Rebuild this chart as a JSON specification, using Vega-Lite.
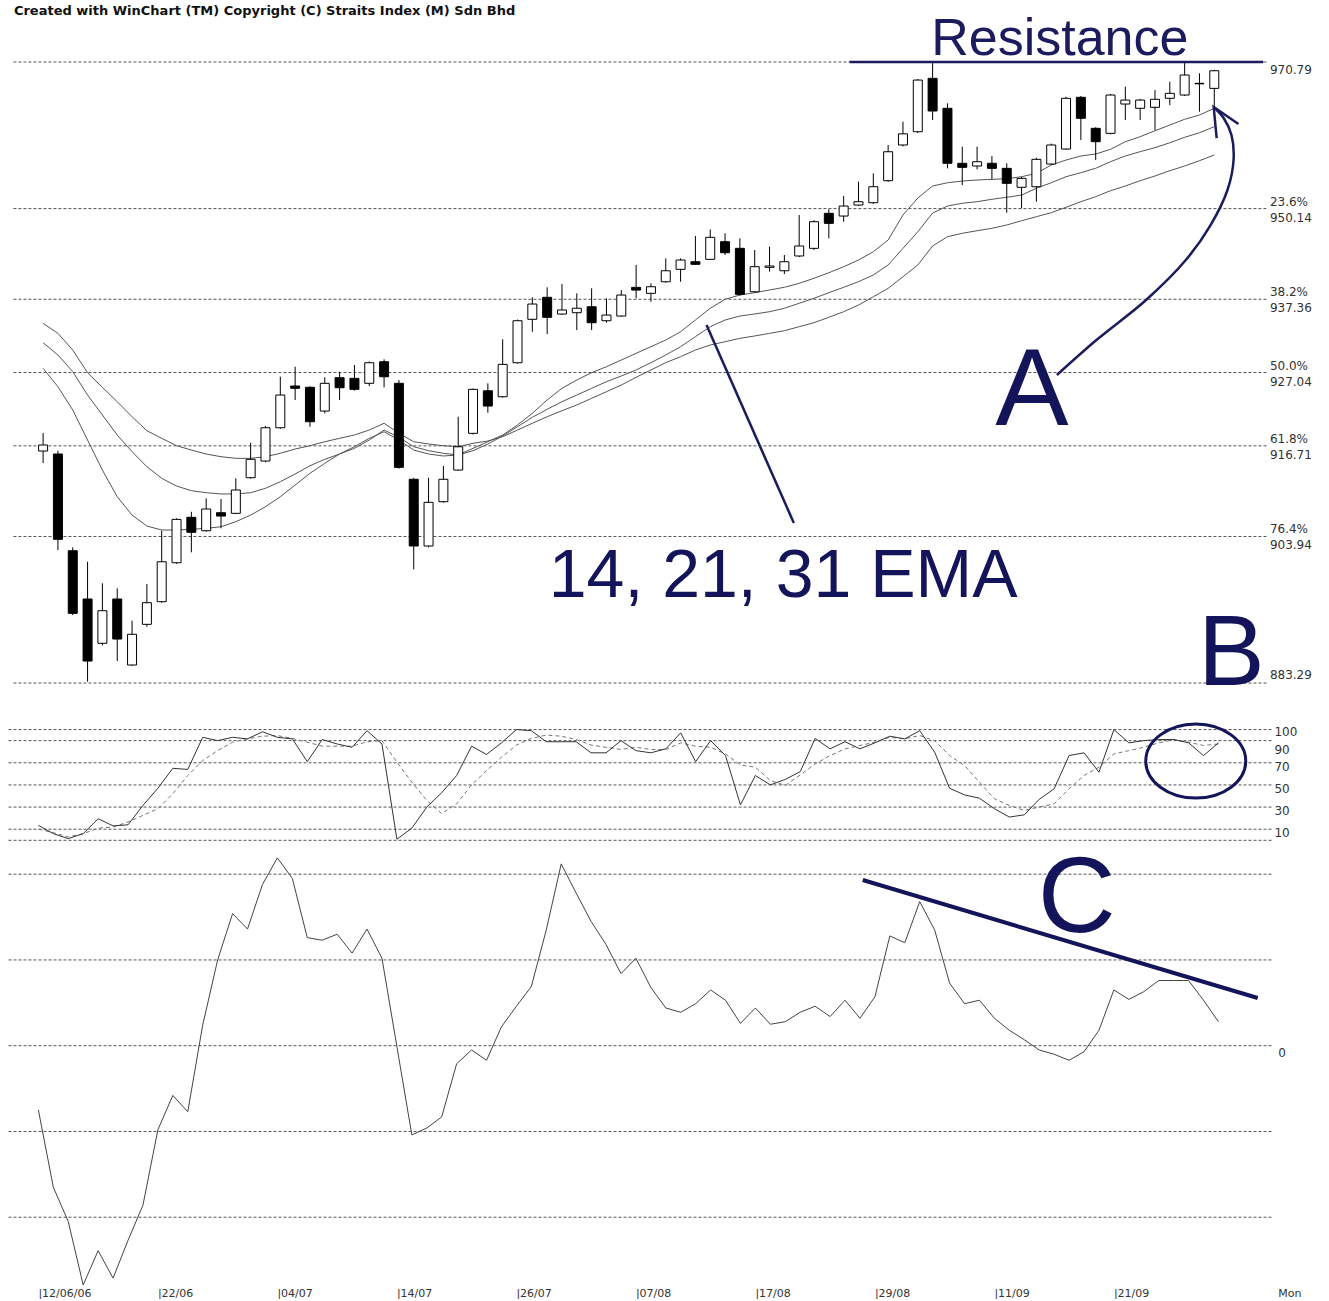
{
 "$schema": "https://vega.github.io/schema/vega-lite/v6.json",
 "padding": 0,
 "background": "white",
 "spacing": 0,
 "bounds": "flush",
 "config": {"view": {"stroke": null}, "concat": {"spacing": 0}},
 "datasets": {
  "d": [
   {"i":0,"o":915.98,"h":918.52,"l":914.29,"c":916.83,"e14":927.63,"e21":931.24,"e31":933.97,"k":13.5,"dd":10,"m":-7.5},
   {"i":1,"o":915.56,"h":916.02,"l":902.03,"c":903.54,"e14":925.04,"e21":929.51,"e31":932.56,"k":6,"dd":7,"m":-16.5},
   {"i":2,"o":901.93,"h":902.41,"l":892.87,"c":893.11,"e14":921.76,"e21":927.16,"e31":930.21,"k":1.5,"dd":3,"m":-20.5},
   {"i":3,"o":895.13,"h":900.38,"l":883.48,"c":886.39,"e14":917.53,"e21":923.87,"e31":927.01,"k":6,"dd":6,"m":-27.9},
   {"i":4,"o":888.89,"h":897.34,"l":888.6,"c":893.48,"e14":913.3,"e21":921.06,"e31":924.95,"k":19.5,"dd":11,"m":-23.9},
   {"i":5,"o":895.13,"h":896.64,"l":886.39,"c":889.49,"e14":909.54,"e21":918.24,"e31":922.93,"k":13,"dd":12,"m":-27.1},
   {"i":6,"o":885.83,"h":892.07,"l":885.7,"c":890.16,"e14":906.96,"e21":915.89,"e31":920.81,"k":14,"dd":16.5,"m":-22.7},
   {"i":7,"o":891.56,"h":897.24,"l":891.22,"c":894.61,"e14":905.41,"e21":913.77,"e31":918.84,"k":31.5,"dd":22.5,"m":-18.6},
   {"i":8,"o":894.75,"h":904.75,"l":894.6,"c":900.38,"e14":904.85,"e21":912.14,"e31":917.77,"k":47,"dd":28.5,"m":-9.8},
   {"i":9,"o":900.24,"h":906.5,"l":900.1,"c":906.35,"e14":904.85,"e21":911.05,"e31":916.73,"k":65,"dd":42,"m":-5.8},
   {"i":10,"o":906.64,"h":907.42,"l":901.71,"c":904.53,"e14":904.95,"e21":910.39,"e31":916.12,"k":64,"dd":58.5,"m":-7.7},
   {"i":11,"o":904.75,"h":909.32,"l":904.6,"c":907.81,"e14":905.09,"e21":910.11,"e31":915.56,"k":93,"dd":72,"m":2.4},
   {"i":12,"o":907.29,"h":909.22,"l":905.09,"c":906.82,"e14":905.31,"e21":909.93,"e31":915.18,"k":90,"dd":81,"m":10},
   {"i":13,"o":907.2,"h":912.13,"l":907.1,"c":910.49,"e14":906.02,"e21":909.93,"e31":914.95,"k":93,"dd":88.6,"m":15.4},
   {"i":14,"o":912.22,"h":917.15,"l":912.1,"c":914.81,"e14":906.96,"e21":910.11,"e31":914.95,"k":91.6,"dd":91.6,"m":13.6},
   {"i":15,"o":914.57,"h":919.5,"l":914.4,"c":919.26,"e14":908.13,"e21":910.73,"e31":915.18,"k":98,"dd":94,"m":18.8},
   {"i":16,"o":919.26,"h":926.45,"l":919.1,"c":923.87,"e14":909.54,"e21":911.66,"e31":915.66,"k":93,"dd":94.6,"m":21.9},
   {"i":17,"o":925.14,"h":927.86,"l":923.17,"c":924.82,"e14":911.19,"e21":912.74,"e31":916.26,"k":91.6,"dd":92,"m":19.5},
   {"i":18,"o":924.96,"h":925.1,"l":919.4,"c":920.11,"e14":912.84,"e21":913.91,"e31":916.73,"k":71,"dd":88.6,"m":12.6},
   {"i":19,"o":921.61,"h":926.36,"l":921.29,"c":925.52,"e14":914.25,"e21":914.81,"e31":917.29,"k":91,"dd":85,"m":12.3},
   {"i":20,"o":926.31,"h":927.15,"l":923.17,"c":924.9,"e14":915.56,"e21":915.56,"e31":917.77,"k":87,"dd":85,"m":13},
   {"i":21,"o":926.22,"h":928.1,"l":924.5,"c":924.67,"e14":916.59,"e21":916.36,"e31":918.24,"k":84,"dd":85,"m":10.8},
   {"i":22,"o":925.52,"h":928.6,"l":925.14,"c":928.42,"e14":917.77,"e21":917.53,"e31":918.94,"k":99,"dd":89,"m":13.6},
   {"i":23,"o":928.56,"h":928.9,"l":924.96,"c":926.45,"e14":918.7,"e21":918.94,"e31":919.89,"k":87,"dd":90,"m":10.2},
   {"i":24,"o":925.52,"h":925.98,"l":913.5,"c":913.68,"e14":917.53,"e21":917.91,"e31":918.48,"k":1,"dd":70.6,"m":-0.1},
   {"i":25,"o":912.0,"h":912.2,"l":899.31,"c":902.6,"e14":916.12,"e21":916.59,"e31":917.29,"k":11,"dd":52.5,"m":-10.4},
   {"i":26,"o":902.6,"h":912.22,"l":902.4,"c":908.75,"e14":915.56,"e21":916.03,"e31":916.97,"k":30,"dd":36,"m":-9.6},
   {"i":27,"o":908.84,"h":913.87,"l":908.7,"c":912.0,"e14":915.28,"e21":915.66,"e31":916.73,"k":43,"dd":24,"m":-8.3},
   {"i":28,"o":913.3,"h":920.81,"l":913.2,"c":916.58,"e14":915.42,"e21":915.42,"e31":916.59,"k":58.5,"dd":33,"m":-2.1},
   {"i":29,"o":918.47,"h":924.8,"l":918.3,"c":924.67,"e14":916.36,"e21":916.03,"e31":917.07,"k":85,"dd":50,"m":-0.5},
   {"i":30,"o":924.47,"h":925.52,"l":921.38,"c":922.32,"e14":917.29,"e21":916.97,"e31":917.39,"k":77.5,"dd":63,"m":-1.7},
   {"i":31,"o":923.63,"h":931.72,"l":923.5,"c":928.19,"e14":918.24,"e21":918.1,"e31":918.0,"k":88,"dd":75,"m":2.2},
   {"i":32,"o":928.42,"h":934.5,"l":928.3,"c":934.34,"e14":919.65,"e21":919.41,"e31":918.94,"k":100,"dd":86,"m":4.6},
   {"i":33,"o":934.54,"h":937.64,"l":932.79,"c":936.69,"e14":921.3,"e21":920.73,"e31":919.89,"k":99,"dd":92,"m":6.9},
   {"i":34,"o":937.64,"h":939.04,"l":932.46,"c":934.82,"e14":923.17,"e21":921.86,"e31":920.81,"k":89,"dd":95,"m":13.5},
   {"i":35,"o":935.28,"h":939.51,"l":935.14,"c":935.85,"e14":924.82,"e21":922.93,"e31":921.66,"k":89,"dd":94,"m":21.2},
   {"i":36,"o":935.47,"h":938.2,"l":933.03,"c":936.1,"e14":925.99,"e21":923.87,"e31":922.47,"k":89,"dd":91,"m":17.8},
   {"i":37,"o":936.31,"h":938.9,"l":933.03,"c":934.06,"e14":927.02,"e21":924.82,"e31":923.41,"k":79,"dd":86,"m":14.5},
   {"i":38,"o":934.34,"h":937.5,"l":934.06,"c":935.14,"e14":927.86,"e21":925.75,"e31":924.34,"k":79,"dd":84,"m":11.8},
   {"i":39,"o":935.0,"h":938.66,"l":934.9,"c":937.96,"e14":928.8,"e21":926.55,"e31":925.28,"k":90,"dd":82,"m":8.4},
   {"i":40,"o":939.04,"h":942.19,"l":937.5,"c":938.66,"e14":929.75,"e21":927.4,"e31":926.37,"k":81,"dd":84,"m":10.2},
   {"i":41,"o":938.2,"h":939.61,"l":937.02,"c":939.13,"e14":930.68,"e21":928.43,"e31":927.4,"k":79,"dd":82,"m":6.8},
   {"i":42,"o":939.83,"h":943.13,"l":939.7,"c":941.38,"e14":931.62,"e21":929.51,"e31":928.43,"k":82.6,"dd":82,"m":4.4},
   {"i":43,"o":941.58,"h":943.13,"l":939.83,"c":942.89,"e14":932.79,"e21":930.68,"e31":929.27,"k":97,"dd":88,"m":3.9},
   {"i":44,"o":942.65,"h":946.27,"l":942.2,"c":942.29,"e14":934.44,"e21":932.09,"e31":930.21,"k":71,"dd":85,"m":4.9},
   {"i":45,"o":942.99,"h":947.21,"l":942.9,"c":946.09,"e14":936.09,"e21":933.5,"e31":930.92,"k":90,"dd":84,"m":6.5},
   {"i":46,"o":945.47,"h":946.65,"l":943.6,"c":943.92,"e14":937.36,"e21":934.44,"e31":931.38,"k":76.5,"dd":78,"m":5.3},
   {"i":47,"o":944.54,"h":945.95,"l":937.9,"c":938.06,"e14":937.96,"e21":935.0,"e31":931.86,"k":32,"dd":68,"m":2.6},
   {"i":48,"o":938.42,"h":944.3,"l":938.3,"c":941.95,"e14":938.29,"e21":935.29,"e31":932.19,"k":58.5,"dd":66,"m":4.4},
   {"i":49,"o":941.86,"h":944.77,"l":941.25,"c":942.05,"e14":938.67,"e21":935.61,"e31":932.56,"k":50,"dd":54,"m":2.5},
   {"i":50,"o":941.38,"h":943.6,"l":940.92,"c":942.65,"e14":939.05,"e21":936.09,"e31":932.93,"k":55,"dd":49.5,"m":2.8},
   {"i":51,"o":943.46,"h":949.23,"l":943.3,"c":944.87,"e14":939.61,"e21":936.8,"e31":933.5,"k":62,"dd":59,"m":3.9},
   {"i":52,"o":944.54,"h":948.5,"l":944.3,"c":948.29,"e14":940.32,"e21":937.5,"e31":934.06,"k":92,"dd":69,"m":4.6},
   {"i":53,"o":949.47,"h":950.04,"l":945.95,"c":948.06,"e14":941.1,"e21":938.29,"e31":934.82,"k":82.6,"dd":76.5,"m":3.4},
   {"i":54,"o":949.09,"h":951.91,"l":948.29,"c":950.5,"e14":941.95,"e21":939.05,"e31":935.61,"k":89,"dd":82.6,"m":5.3},
   {"i":55,"o":950.64,"h":953.93,"l":950.5,"c":951.11,"e14":942.89,"e21":939.84,"e31":936.55,"k":82.6,"dd":85.6,"m":3.2},
   {"i":56,"o":950.97,"h":955.11,"l":950.8,"c":953.22,"e14":944.06,"e21":940.78,"e31":937.72,"k":88,"dd":88.6,"m":5.7},
   {"i":57,"o":954.07,"h":959.1,"l":953.9,"c":958.15,"e14":945.71,"e21":942.19,"e31":938.9,"k":94,"dd":93,"m":12.8},
   {"i":58,"o":959.1,"h":962.38,"l":958.9,"c":960.67,"e14":949.23,"e21":944.54,"e31":940.54,"k":91.6,"dd":91.6,"m":12},
   {"i":59,"o":960.97,"h":968.4,"l":960.8,"c":968.25,"e14":951.63,"e21":946.88,"e31":942.19,"k":99,"dd":94.6,"m":16.8},
   {"i":60,"o":968.49,"h":970.69,"l":962.62,"c":963.89,"e14":953.32,"e21":949.52,"e31":944.87,"k":79.6,"dd":90,"m":13.5},
   {"i":61,"o":964.27,"h":964.97,"l":955.81,"c":956.52,"e14":953.78,"e21":950.5,"e31":946.18,"k":47,"dd":76.5,"m":7.3},
   {"i":62,"o":956.52,"h":958.86,"l":953.46,"c":955.95,"e14":954.02,"e21":950.89,"e31":946.66,"k":41,"dd":67.5,"m":4.9},
   {"i":63,"o":956.14,"h":958.86,"l":955.67,"c":956.74,"e14":954.17,"e21":951.11,"e31":947.02,"k":38,"dd":52.5,"m":5.3},
   {"i":64,"o":956.52,"h":957.54,"l":954.26,"c":955.81,"e14":954.26,"e21":951.45,"e31":947.36,"k":28.5,"dd":37.5,"m":3.2},
   {"i":65,"o":955.81,"h":956.52,"l":949.56,"c":953.7,"e14":954.35,"e21":951.73,"e31":947.83,"k":21,"dd":31.5,"m":1.8},
   {"i":66,"o":953.14,"h":954.6,"l":950.18,"c":954.4,"e14":954.63,"e21":952.05,"e31":948.43,"k":23,"dd":27,"m":0.7},
   {"i":67,"o":953.22,"h":957.3,"l":951.11,"c":957.08,"e14":955.11,"e21":953.0,"e31":949.0,"k":37,"dd":30,"m":-0.5},
   {"i":68,"o":956.42,"h":959.3,"l":956.3,"c":959.1,"e14":956.28,"e21":953.78,"e31":949.56,"k":46.5,"dd":33,"m":-1},
   {"i":69,"o":958.53,"h":965.9,"l":958.4,"c":965.68,"e14":956.98,"e21":954.63,"e31":950.32,"k":76.5,"dd":46.5,"m":-1.7},
   {"i":70,"o":965.82,"h":966.0,"l":959.8,"c":962.86,"e14":957.55,"e21":955.2,"e31":951.11,"k":79,"dd":58.5,"m":-0.7},
   {"i":71,"o":961.45,"h":961.6,"l":956.98,"c":959.56,"e14":957.83,"e21":955.82,"e31":951.82,"k":61.5,"dd":66,"m":1.8},
   {"i":72,"o":960.74,"h":966.3,"l":960.6,"c":966.14,"e14":958.49,"e21":956.75,"e31":952.66,"k":100,"dd":78,"m":6.5},
   {"i":73,"o":964.87,"h":967.31,"l":962.62,"c":965.43,"e14":959.56,"e21":957.55,"e31":953.32,"k":88,"dd":81,"m":5.4},
   {"i":74,"o":964.27,"h":965.6,"l":962.62,"c":965.43,"e14":960.27,"e21":958.16,"e31":954.07,"k":90,"dd":84,"m":6.3},
   {"i":75,"o":964.41,"h":966.84,"l":961.21,"c":965.54,"e14":961.11,"e21":958.72,"e31":954.73,"k":91,"dd":88,"m":7.6},
   {"i":76,"o":965.68,"h":968.01,"l":964.73,"c":966.38,"e14":961.91,"e21":959.42,"e31":955.48,"k":91,"dd":91,"m":7.6},
   {"i":77,"o":966.14,"h":970.69,"l":966.0,"c":968.96,"e14":962.72,"e21":960.18,"e31":956.14,"k":88,"dd":88.6,"m":7.6},
   {"i":78,"o":967.79,"h":969.2,"l":963.79,"c":967.72,"e14":963.32,"e21":960.83,"e31":956.89,"k":76.5,"dd":85.6,"m":5.3},
   {"i":79,"o":967.08,"h":969.7,"l":964.49,"c":969.56,"e14":964.27,"e21":961.68,"e31":957.69,"k":88,"dd":87,"m":2.8}
  ],
  "pgrid": [
   {"level":970.79,"label":"970.79","kind":"top"},
   {"level":950.14,"label":"23.6%\n950.14","kind":"fib"},
   {"level":937.36,"label":"38.2%\n937.36","kind":"fib"},
   {"level":927.04,"label":"50.0%\n927.04","kind":"fib"},
   {"level":916.71,"label":"61.8%\n916.71","kind":"fib"},
   {"level":903.94,"label":"76.4%\n903.94","kind":"fib"},
   {"level":883.29,"label":"883.29","kind":"bottom"}
  ],
  "sgrid": [
   {"level":100,"label":"100"},{"level":90,"label":"90"},{"level":70,"label":"70"},
   {"level":50,"label":"50"},{"level":30,"label":"30"},{"level":10,"label":"10"},{"level":0,"label":""}
  ],
  "mgrid": [
   {"level":20,"label":""},{"level":10,"label":""},{"level":0,"label":"0"},{"level":-10,"label":""},{"level":-20,"label":""}
  ],
  "xlabels": [
   {"i":0,"t":"|12/06/06"},{"i":8,"t":"|22/06"},{"i":16,"t":"|04/07"},{"i":24,"t":"|14/07"},
   {"i":32,"t":"|26/07"},{"i":40,"t":"|07/08"},{"i":48,"t":"|17/08"},{"i":56,"t":"|29/08"},
   {"i":64,"t":"|11/09"},{"i":72,"t":"|21/09"},{"i":83,"t":"Mon"}
  ],
  "pointer": [
   {"seg":"pointer","seq":0,"x":44.75,"y":933.73},
   {"seg":"pointer","seq":1,"x":50.64,"y":905.84},
   {"seg":"head","seq":0,"x":80.63,"y":962.05},
   {"seg":"head","seq":1,"x":78.96,"y":964.45},
   {"seg":"head","seq":2,"x":79.16,"y":960.08}
  ],
  "curveA": [
   {"seq":0,"x":68.38,"y":926.69},
   {"seq":1,"x":71.05,"y":931.62},
   {"seq":2,"x":74.4,"y":937.26},
   {"seq":3,"x":77.08,"y":942.89},
   {"seq":4,"x":78.75,"y":947.82},
   {"seq":5,"x":79.89,"y":952.76},
   {"seq":6,"x":80.3,"y":956.98},
   {"seq":7,"x":80.16,"y":960.5},
   {"seq":8,"x":79.63,"y":962.9},
   {"seq":9,"x":78.96,"y":964.45}
  ]
 },
 "vconcat": [
  {
   "width": 1329, "height": 700,
   "layer": [
    {"data": {"name": "pgrid"},
     "mark": {"type": "rule", "stroke": "#555", "strokeDash": [3, 2], "strokeWidth": 1},
     "encoding": {
      "x": {"datum": -2.0, "type": "quantitative", "scale": {"domain": [-2.57, 86.4], "nice": false, "zero": false}, "axis": null},
      "x2": {"datum": 82.57},
      "y": {"field": "level", "type": "quantitative", "scale": {"domain": [880.9, 979.53], "nice": false, "zero": false}, "axis": null}}},
    {"data": {"name": "pgrid"}, "transform": [{"filter": "datum.kind == 'fib'"}],
     "mark": {"type": "text", "align": "left", "baseline": "middle", "dy": -7, "font": "DejaVu Sans", "fontSize": 12, "lineHeight": 16, "lineBreak": "\n", "color": "#333"},
     "encoding": {
      "x": {"datum": 82.75, "type": "quantitative", "scale": {"domain": [-2.57, 86.4], "nice": false, "zero": false}, "axis": null},
      "y": {"field": "level", "type": "quantitative", "scale": {"domain": [880.9, 979.53], "nice": false, "zero": false}, "axis": null},
      "text": {"field": "label"}}},
    {"data": {"name": "pgrid"}, "transform": [{"filter": "datum.kind == 'top'"}],
     "mark": {"type": "text", "align": "left", "baseline": "middle", "dy": 8, "font": "DejaVu Sans", "fontSize": 12, "color": "#333"},
     "encoding": {
      "x": {"datum": 82.75, "type": "quantitative", "scale": {"domain": [-2.57, 86.4], "nice": false, "zero": false}, "axis": null},
      "y": {"field": "level", "type": "quantitative", "scale": {"domain": [880.9, 979.53], "nice": false, "zero": false}, "axis": null},
      "text": {"field": "label"}}},
    {"data": {"name": "pgrid"}, "transform": [{"filter": "datum.kind == 'bottom'"}],
     "mark": {"type": "text", "align": "left", "baseline": "middle", "dy": -8, "font": "DejaVu Sans", "fontSize": 12, "color": "#333"},
     "encoding": {
      "x": {"datum": 82.75, "type": "quantitative", "scale": {"domain": [-2.57, 86.4], "nice": false, "zero": false}, "axis": null},
      "y": {"field": "level", "type": "quantitative", "scale": {"domain": [880.9, 979.53], "nice": false, "zero": false}, "axis": null},
      "text": {"field": "label"}}},
    {"data": {"name": "d"}, "transform": [{"fold": ["e14", "e21", "e31"], "as": ["ema", "val"]}],
     "mark": {"type": "line", "stroke": "#555", "strokeWidth": 1},
     "encoding": {
      "x": {"field": "i", "type": "quantitative", "scale": {"domain": [-2.57, 86.4], "nice": false, "zero": false}, "axis": null},
      "y": {"field": "val", "type": "quantitative", "scale": {"domain": [880.9, 979.53], "nice": false, "zero": false}, "axis": null},
      "detail": {"field": "ema"}}},
    {"data": {"name": "d"},
     "mark": {"type": "rule", "color": "black", "strokeWidth": 1},
     "encoding": {
      "x": {"field": "i", "type": "quantitative", "scale": {"domain": [-2.57, 86.4], "nice": false, "zero": false}, "axis": null},
      "y": {"field": "l", "type": "quantitative", "scale": {"domain": [880.9, 979.53], "nice": false, "zero": false}, "axis": null},
      "y2": {"field": "h"}}},
    {"data": {"name": "d"},
     "mark": {"type": "bar", "size": 9, "stroke": "black", "strokeWidth": 1},
     "encoding": {
      "x": {"field": "i", "type": "quantitative", "scale": {"domain": [-2.57, 86.4], "nice": false, "zero": false}, "axis": null},
      "y": {"field": "o", "type": "quantitative", "scale": {"domain": [880.9, 979.53], "nice": false, "zero": false}, "axis": null},
      "y2": {"field": "c"},
      "fill": {"condition": {"test": "datum.c < datum.o", "value": "black"}, "value": "white"}}},
    {"data": {"values": [{"x0": 54.4, "x1": 82.3, "level": 970.79}]},
     "mark": {"type": "rule", "stroke": "#1b1b5e", "strokeWidth": 2.5},
     "encoding": {
      "x": {"field": "x0", "type": "quantitative", "scale": {"domain": [-2.57, 86.4], "nice": false, "zero": false}, "axis": null},
      "x2": {"field": "x1"},
      "y": {"field": "level", "type": "quantitative", "scale": {"domain": [880.9, 979.53], "nice": false, "zero": false}, "axis": null}}},
    {"data": {"name": "pointer"},
     "mark": {"type": "line", "stroke": "#1b1b5e", "strokeWidth": 2.5},
     "encoding": {
      "x": {"field": "x", "type": "quantitative", "scale": {"domain": [-2.57, 86.4], "nice": false, "zero": false}, "axis": null},
      "y": {"field": "y", "type": "quantitative", "scale": {"domain": [880.9, 979.53], "nice": false, "zero": false}, "axis": null},
      "detail": {"field": "seg"},
      "order": {"field": "seq"}}},
    {"data": {"name": "curveA"},
     "mark": {"type": "line", "stroke": "#1b1b5e", "strokeWidth": 2.5, "interpolate": "catmull-rom"},
     "encoding": {
      "x": {"field": "x", "type": "quantitative", "scale": {"domain": [-2.57, 86.4], "nice": false, "zero": false}, "axis": null},
      "y": {"field": "y", "type": "quantitative", "scale": {"domain": [880.9, 979.53], "nice": false, "zero": false}, "axis": null},
      "order": {"field": "seq"}}},
    {"data": {"values": [{"t": "Created with WinChart (TM)  Copyright (C) Straits Index (M) Sdn Bhd", "x": -1.97, "y": 977.98}]},
     "mark": {"type": "text", "align": "left", "baseline": "middle", "font": "DejaVu Sans", "fontWeight": "bold", "fontSize": 13, "color": "#111"},
     "encoding": {
      "x": {"field": "x", "type": "quantitative", "scale": {"domain": [-2.57, 86.4], "nice": false, "zero": false}, "axis": null},
      "y": {"field": "y", "type": "quantitative", "scale": {"domain": [880.9, 979.53], "nice": false, "zero": false}, "axis": null},
      "text": {"field": "t"}}},
    {"data": {"values": [{"t": "Resistance", "x": 68.58, "y": 971.78}]},
     "mark": {"type": "text", "align": "center", "baseline": "alphabetic", "font": "Liberation Sans", "fontSize": 52, "color": "#1b1b5e"},
     "encoding": {
      "x": {"field": "x", "type": "quantitative", "scale": {"domain": [-2.57, 86.4], "nice": false, "zero": false}, "axis": null},
      "y": {"field": "y", "type": "quantitative", "scale": {"domain": [880.9, 979.53], "nice": false, "zero": false}, "axis": null},
      "text": {"field": "t"}}},
    {"data": {"values": [{"t": "A", "x": 66.7, "y": 919.64}]},
     "mark": {"type": "text", "align": "center", "baseline": "alphabetic", "font": "Liberation Sans", "fontSize": 110, "color": "#14145a"},
     "encoding": {
      "x": {"field": "x", "type": "quantitative", "scale": {"domain": [-2.57, 86.4], "nice": false, "zero": false}, "axis": null},
      "y": {"field": "y", "type": "quantitative", "scale": {"domain": [880.9, 979.53], "nice": false, "zero": false}, "axis": null},
      "text": {"field": "t"}}},
    {"data": {"values": [{"t": "14, 21, 31 EMA", "x": 34.11, "y": 895.41}]},
     "mark": {"type": "text", "align": "left", "baseline": "alphabetic", "font": "Liberation Sans", "fontSize": 68, "color": "#14145a"},
     "encoding": {
      "x": {"field": "x", "type": "quantitative", "scale": {"domain": [-2.57, 86.4], "nice": false, "zero": false}, "axis": null},
      "y": {"field": "y", "type": "quantitative", "scale": {"domain": [880.9, 979.53], "nice": false, "zero": false}, "axis": null},
      "text": {"field": "t"}}},
    {"data": {"values": [{"t": "B", "x": 80.15, "y": 883.01}]},
     "mark": {"type": "text", "align": "center", "baseline": "alphabetic", "font": "Liberation Sans", "fontSize": 100, "color": "#14145a"},
     "encoding": {
      "x": {"field": "x", "type": "quantitative", "scale": {"domain": [-2.57, 86.4], "nice": false, "zero": false}, "axis": null},
      "y": {"field": "y", "type": "quantitative", "scale": {"domain": [880.9, 979.53], "nice": false, "zero": false}, "axis": null},
      "text": {"field": "t"}}}
   ]
  },
  {
   "width": 1329, "height": 150,
   "layer": [
    {"data": {"name": "sgrid"},
     "mark": {"type": "rule", "stroke": "#555", "strokeDash": [3, 2], "strokeWidth": 1},
     "encoding": {
      "x": {"datum": -2.0, "type": "quantitative", "scale": {"domain": [-2.57, 86.4], "nice": false, "zero": false}, "axis": null},
      "x2": {"datum": 82.57},
      "y": {"field": "level", "type": "quantitative", "scale": {"domain": [-8.76, 126.7], "nice": false, "zero": false}, "axis": null}}},
    {"data": {"name": "sgrid"}, "transform": [{"filter": "datum.level == 100"}],
     "mark": {"type": "text", "align": "left", "baseline": "middle", "dy": 2, "font": "DejaVu Sans", "fontSize": 12, "color": "#333"},
     "encoding": {
      "x": {"datum": 82.75, "type": "quantitative", "scale": {"domain": [-2.57, 86.4], "nice": false, "zero": false}, "axis": null},
      "y": {"field": "level", "type": "quantitative", "scale": {"domain": [-8.76, 126.7], "nice": false, "zero": false}, "axis": null},
      "text": {"field": "label"}}},
    {"data": {"name": "sgrid"}, "transform": [{"filter": "datum.level == 90"}],
     "mark": {"type": "text", "align": "left", "baseline": "middle", "dy": 9, "font": "DejaVu Sans", "fontSize": 12, "color": "#333"},
     "encoding": {
      "x": {"datum": 82.75, "type": "quantitative", "scale": {"domain": [-2.57, 86.4], "nice": false, "zero": false}, "axis": null},
      "y": {"field": "level", "type": "quantitative", "scale": {"domain": [-8.76, 126.7], "nice": false, "zero": false}, "axis": null},
      "text": {"field": "label"}}},
    {"data": {"name": "sgrid"}, "transform": [{"filter": "datum.level < 90"}],
     "mark": {"type": "text", "align": "left", "baseline": "middle", "dy": 4, "font": "DejaVu Sans", "fontSize": 12, "color": "#333"},
     "encoding": {
      "x": {"datum": 82.75, "type": "quantitative", "scale": {"domain": [-2.57, 86.4], "nice": false, "zero": false}, "axis": null},
      "y": {"field": "level", "type": "quantitative", "scale": {"domain": [-8.76, 126.7], "nice": false, "zero": false}, "axis": null},
      "text": {"field": "label"}}},
    {"data": {"name": "d"},
     "mark": {"type": "line", "stroke": "#777", "strokeDash": [4, 3], "strokeWidth": 1},
     "encoding": {
      "x": {"field": "i", "type": "quantitative", "scale": {"domain": [-2.57, 86.4], "nice": false, "zero": false}, "axis": null},
      "y": {"field": "dd", "type": "quantitative", "scale": {"domain": [-8.76, 126.7], "nice": false, "zero": false}, "axis": null}}},
    {"data": {"name": "d"},
     "mark": {"type": "line", "stroke": "#333", "strokeWidth": 1},
     "encoding": {
      "x": {"field": "i", "type": "quantitative", "scale": {"domain": [-2.57, 86.4], "nice": false, "zero": false}, "axis": null},
      "y": {"field": "k", "type": "quantitative", "scale": {"domain": [-8.76, 126.7], "nice": false, "zero": false}, "axis": null}}},
    {"data": {"values": [{"x": 77.48, "y": 71.6}]},
     "mark": {"type": "point", "shape": "M-1,0A1,0.74,0,1,1,1,0A1,0.74,0,1,1,-1,0Z", "size": 10000, "filled": false, "stroke": "#14145a", "strokeWidth": 3, "opacity": 1},
     "encoding": {
      "x": {"field": "x", "type": "quantitative", "scale": {"domain": [-2.57, 86.4], "nice": false, "zero": false}, "axis": null},
      "y": {"field": "y", "type": "quantitative", "scale": {"domain": [-8.76, 126.7], "nice": false, "zero": false}, "axis": null}}}
   ]
  },
  {
   "width": 1329, "height": 436,
   "layer": [
    {"data": {"name": "mgrid"},
     "mark": {"type": "rule", "stroke": "#555", "strokeDash": [3, 2], "strokeWidth": 1},
     "encoding": {
      "x": {"datum": -2.0, "type": "quantitative", "scale": {"domain": [-2.57, 86.4], "nice": false, "zero": false}, "axis": null},
      "x2": {"datum": 82.57},
      "y": {"field": "level", "type": "quantitative", "scale": {"domain": [-28.02, 22.82], "nice": false, "zero": false}, "axis": null}}},
    {"data": {"name": "mgrid"},
     "mark": {"type": "text", "align": "left", "baseline": "middle", "dy": 7, "font": "DejaVu Sans", "fontSize": 12, "color": "#333"},
     "encoding": {
      "x": {"datum": 83.0, "type": "quantitative", "scale": {"domain": [-2.57, 86.4], "nice": false, "zero": false}, "axis": null},
      "y": {"field": "level", "type": "quantitative", "scale": {"domain": [-28.02, 22.82], "nice": false, "zero": false}, "axis": null},
      "text": {"field": "label"}}},
    {"data": {"name": "xlabels"},
     "mark": {"type": "text", "align": "left", "baseline": "top", "dy": 2, "font": "DejaVu Sans", "fontSize": 11, "color": "#333"},
     "encoding": {
      "x": {"field": "i", "type": "quantitative", "scale": {"domain": [-2.57, 86.4], "nice": false, "zero": false}, "axis": null},
      "y": {"datum": -28.02, "type": "quantitative", "scale": {"domain": [-28.02, 22.82], "nice": false, "zero": false}, "axis": null},
      "text": {"field": "t"}}},
    {"data": {"name": "d"},
     "mark": {"type": "line", "stroke": "#444", "strokeWidth": 1},
     "encoding": {
      "x": {"field": "i", "type": "quantitative", "scale": {"domain": [-2.57, 86.4], "nice": false, "zero": false}, "axis": null},
      "y": {"field": "m", "type": "quantitative", "scale": {"domain": [-28.02, 22.82], "nice": false, "zero": false}, "axis": null}}},
    {"data": {"values": [{"x": 55.19, "y": 19.32}, {"x": 81.63, "y": 5.56}]},
     "mark": {"type": "line", "stroke": "#14145a", "strokeWidth": 4},
     "encoding": {
      "x": {"field": "x", "type": "quantitative", "scale": {"domain": [-2.57, 86.4], "nice": false, "zero": false}, "axis": null},
      "y": {"field": "y", "type": "quantitative", "scale": {"domain": [-28.02, 22.82], "nice": false, "zero": false}, "axis": null}}},
    {"data": {"values": [{"t": "C", "x": 69.52, "y": 13.26}]},
     "mark": {"type": "text", "align": "center", "baseline": "alphabetic", "font": "Liberation Sans", "fontSize": 108, "color": "#14145a"},
     "encoding": {
      "x": {"field": "x", "type": "quantitative", "scale": {"domain": [-2.57, 86.4], "nice": false, "zero": false}, "axis": null},
      "y": {"field": "y", "type": "quantitative", "scale": {"domain": [-28.02, 22.82], "nice": false, "zero": false}, "axis": null},
      "text": {"field": "t"}}}
   ]
  }
 ]
}
